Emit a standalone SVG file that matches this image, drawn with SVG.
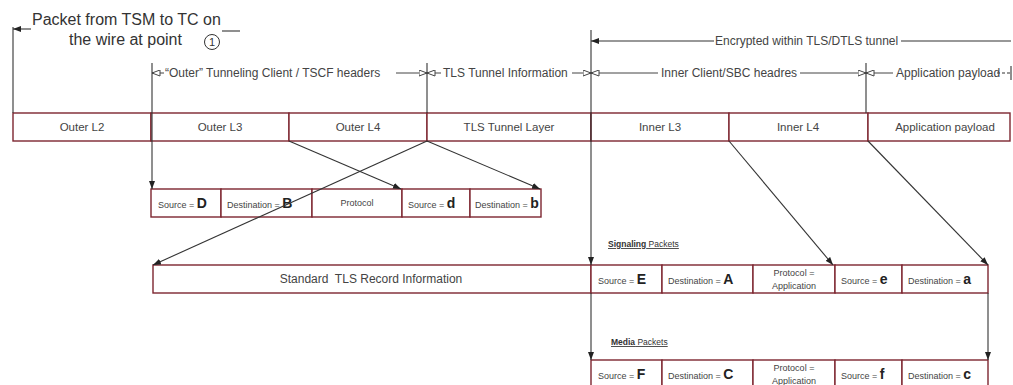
<svg xmlns="http://www.w3.org/2000/svg" width="1013" height="385" viewBox="0 0 1013 385">
<style>
.cell{fill:#ffffff;stroke:#7d2530;stroke-width:1.4}
.lbl{font-family:"Liberation Sans",Arial,sans-serif;font-size:11.5px;fill:#444;text-anchor:middle}
.big{font-family:"Liberation Sans",Arial,sans-serif;font-size:12px;fill:#444;text-anchor:middle;white-space:pre}
.sm{font-family:"Liberation Sans",Arial,sans-serif;font-size:9px;fill:#444}
.smc{font-family:"Liberation Sans",Arial,sans-serif;font-size:9px;fill:#444;text-anchor:middle}
.bl{font-family:"Liberation Sans",Arial,sans-serif;font-size:14px;font-weight:bold;fill:#222}
.ann{font-family:"Liberation Sans",Arial,sans-serif;font-size:12px;fill:#444}
.title{font-family:"Liberation Sans",Arial,sans-serif;font-size:16px;fill:#333}
.ln{fill:none;stroke:#333;stroke-width:1.1}
.arr{fill:none;stroke:#333;stroke-width:1.1;marker-end:url(#fa)}
.harr{fill:none;stroke:#444;stroke-width:1;marker-end:url(#ha)}
.pk{font-family:"Liberation Sans",Arial,sans-serif;font-size:8.5px;fill:#333;text-decoration:underline}
</style>
<defs>
<marker id="fa" viewBox="0 0 8 6" refX="8" refY="3" markerWidth="8" markerHeight="6" markerUnits="userSpaceOnUse" orient="auto">
<path d="M0,0 L8,3 L0,6 Z" fill="#222"/>
</marker>
<marker id="ha" viewBox="0 0 9 7" refX="8.5" refY="3.5" markerWidth="9" markerHeight="7" markerUnits="userSpaceOnUse" orient="auto">
<path d="M0.5,0.5 L8.5,3.5 L0.5,6.5 Z" fill="#fff" stroke="#444" stroke-width="1"/>
</marker>
</defs>

<g id="annotations">
<text class="title" x="32" y="25">Packet from TSM to TC on</text>
<text class="title" x="69" y="45">the wire at point</text>
<circle cx="212" cy="42" r="7.5" fill="none" stroke="#333" stroke-width="1"/>
<text x="212" y="46" font-family="Liberation Sans, Arial, sans-serif" font-size="11" fill="#333" text-anchor="middle">1</text>
<text class="ann" x="165" y="77">“Outer” Tunneling Client / TSCF headers</text>
<text class="ann" x="443" y="77">TLS Tunnel Information</text>
<text class="ann" x="661" y="77">Inner Client/SBC headres</text>
<text class="ann" x="896" y="77">Application payload</text>
<text class="ann" x="715" y="45">Encrypted within TLS/DTLS tunnel</text>
<text class="pk" x="608" y="247"><tspan font-weight="bold">Signaling</tspan> Packets</text>
<text class="pk" x="611" y="345"><tspan font-weight="bold">Media</tspan> Packets</text>
</g>

<g id="packet">
<rect class="cell" x="13" y="113" width="138" height="28"/>
<text class="lbl" x="82" y="131">Outer L2</text>
<rect class="cell" x="151" y="113" width="138" height="28"/>
<text class="lbl" x="220" y="131">Outer L3</text>
<rect class="cell" x="289" y="113" width="138" height="28"/>
<text class="lbl" x="358" y="131">Outer L4</text>
<rect class="cell" x="427" y="113" width="164" height="28"/>
<text class="lbl" x="509" y="131">TLS Tunnel Layer</text>
<rect class="cell" x="591" y="113" width="138" height="28"/>
<text class="lbl" x="660" y="131">Inner L3</text>
<rect class="cell" x="729" y="113" width="139" height="28"/>
<text class="lbl" x="798" y="131">Inner L4</text>
<rect class="cell" x="868" y="113" width="142" height="28"/>
<text class="lbl" x="945" y="131">Application payload</text>
</g>

<g id="outer-headers">
<rect class="cell" x="151" y="189" width="70" height="28"/>
<text x="158" y="208"><tspan class="sm">Source = </tspan><tspan class="bl">D</tspan></text>
<rect class="cell" x="221" y="189" width="91" height="28"/>
<text x="227" y="208"><tspan class="sm">Destination = </tspan><tspan class="bl">B</tspan></text>
<rect class="cell" x="312" y="189" width="90" height="28"/>
<text class="smc" x="357" y="206">Protocol</text>
<rect class="cell" x="402" y="189" width="68" height="28"/>
<text x="408" y="208"><tspan class="sm">Source = </tspan><tspan class="bl">d</tspan></text>
<rect class="cell" x="470" y="189" width="71" height="28"/>
<text x="475" y="208"><tspan class="sm">Destination = </tspan><tspan class="bl">b</tspan></text>
</g>

<g id="signaling">
<rect class="cell" x="153" y="265" width="438" height="28"/>
<text class="big" x="371" y="283" xml:space="preserve">Standard  TLS Record Information</text>
<rect class="cell" x="591" y="265" width="71" height="28"/>
<text x="598" y="284"><tspan class="sm">Source = </tspan><tspan class="bl">E</tspan></text>
<rect class="cell" x="662" y="265" width="91" height="28"/>
<text x="668" y="284"><tspan class="sm">Destination = </tspan><tspan class="bl">A</tspan></text>
<rect class="cell" x="753" y="265" width="82" height="28"/>
<text class="smc" x="794" y="276">Protocol =</text>
<text class="smc" x="794" y="289">Application</text>
<rect class="cell" x="835" y="265" width="67" height="28"/>
<text x="841" y="284"><tspan class="sm">Source = </tspan><tspan class="bl">e</tspan></text>
<rect class="cell" x="902" y="265" width="86" height="28"/>
<text x="908" y="284"><tspan class="sm">Destination = </tspan><tspan class="bl">a</tspan></text>
</g>

<g id="media">
<rect class="cell" x="591" y="360" width="71" height="28"/>
<text x="598" y="379"><tspan class="sm">Source = </tspan><tspan class="bl">F</tspan></text>
<rect class="cell" x="662" y="360" width="91" height="28"/>
<text x="668" y="379"><tspan class="sm">Destination = </tspan><tspan class="bl">C</tspan></text>
<rect class="cell" x="753" y="360" width="82" height="28"/>
<text class="smc" x="794" y="371">Protocol =</text>
<text class="smc" x="794" y="384">Application</text>
<rect class="cell" x="835" y="360" width="67" height="28"/>
<text x="841" y="379"><tspan class="sm">Source = </tspan><tspan class="bl">f</tspan></text>
<rect class="cell" x="902" y="360" width="86" height="28"/>
<text x="908" y="379"><tspan class="sm">Destination = </tspan><tspan class="bl">c</tspan></text>
</g>

<g id="connectors">
<path class="arr" d="M31,29 L13,29"/>
<path class="ln" d="M13,27 L13,113"/>
<path class="ln" d="M222,31 L240,31"/>
<path class="arr" d="M714,41 L591,41"/>
<path class="ln" d="M901,41 L1011,41"/>
<path class="harr" d="M164,73 L152,73"/>
<path class="harr" d="M396,73 L427,73"/>
<path class="harr" d="M441,73 L427,73"/>
<path class="harr" d="M572,73 L591,73"/>
<path class="harr" d="M658,73 L591,73"/>
<path class="harr" d="M800,73 L866,73"/>
<path class="harr" d="M893,73 L866,73"/>
<path class="ln" d="M997,73 L1011,73" stroke-dasharray="3,2"/>
<path class="ln" d="M1011,66 L1011,80"/>
<path class="ln" d="M427,63 L427,113"/>
<path class="ln" d="M866,63 L866,113"/>
<path class="arr" d="M152,63 L152,189"/>
<path class="arr" d="M591,30 L591,265"/>
<path class="arr" d="M289,141 L401,189"/>
<path class="arr" d="M427,141 L540,189"/>
<path class="arr" d="M427,141 L153,265"/>
<path class="arr" d="M729,141 L833,265"/>
<path class="arr" d="M868,141 L988,265"/>
<path class="arr" d="M591,293 L591,360"/>
<path class="arr" d="M988,293 L988,360"/>
</g>
</svg>
